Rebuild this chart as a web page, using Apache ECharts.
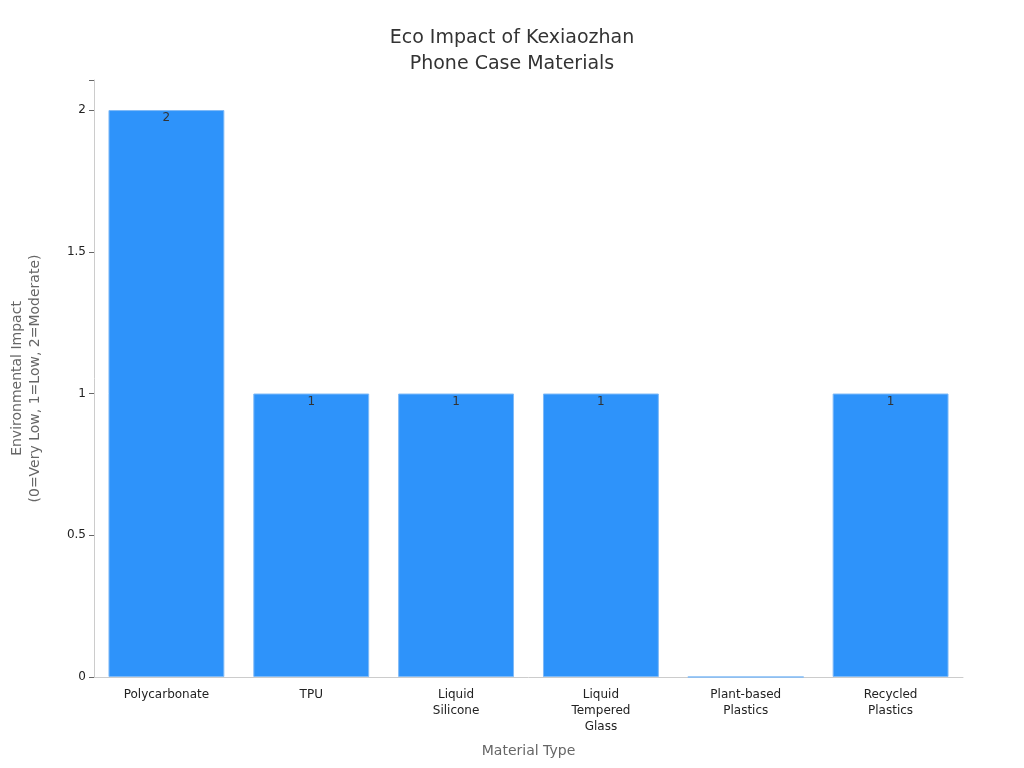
<!DOCTYPE html>
<html><head><meta charset="utf-8">
<script src="https://cdn.jsdelivr.net/npm/echarts@6/dist/echarts.min.js"></script>
<style>html,body{margin:0;padding:0}#c{width:1024px;height:768px}</style>
</head><body><div id="c"></div>
<script>
const categories = ["Polycarbonate","TPU","Liquid\nSilicone","Liquid\nTempered\nGlass","Plant-based\nPlastics","Recycled\nPlastics"];
const values = [2,1,1,1,0,1];
const yTicks = [0,0.5,1,1.5,2];
const chart = echarts.init(document.getElementById('c'));
const font = "DejaVu Sans";
chart.setOption({
  textStyle:{fontFamily:font},
  title:{text:"Eco Impact of Kexiaozhan\nPhone Case Materials",left:'center',top:20,
    textStyle:{fontFamily:font,fontSize:19,fontWeight:'normal',color:'#333',lineHeight:26}},
  grid:{left:83,right:61,top:80,bottom:91},
  xAxis:{type:'category',data:categories,name:'Material Type',nameLocation:'middle',nameGap:67,
    nameTextStyle:{fontSize:14,color:'#666'},
    axisLine:{lineStyle:{color:'#ccc'}},axisTick:{show:false},
    axisLabel:{color:'#222',fontSize:12,margin:10,lineHeight:16,interval:0}},
  yAxis:{type:'value',min:0,max:2.106,interval:0.5,
    name:'Environmental Impact\n(0=Very Low, 1=Low, 2=Moderate)',nameLocation:'middle',nameGap:50,
    nameTextStyle:{fontSize:14,color:'#666',lineHeight:18},
    axisLine:{show:true,lineStyle:{color:'#ccc'}},axisTick:{show:true,length:5,lineStyle:{color:'#666'}},
    splitLine:{show:false},
    axisLabel:{color:'#222',fontSize:12,formatter:v=>yTicks.includes(v)?String(v):''}},
  series:[{type:'bar',data:values,barCategoryGap:'20%',
    itemStyle:{color:'#2E93FA',borderColor:'#7fbaf7',borderWidth:1},
    label:{show:true,position:'insideTop',color:'#333',fontSize:12,offset:[0,-3],
      formatter:p=>p.value?String(p.value):''}}]
});
</script></body></html>
